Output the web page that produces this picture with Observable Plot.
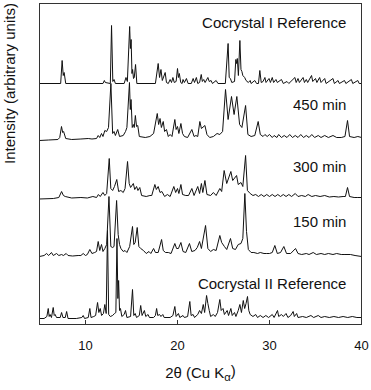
<!DOCTYPE html>
<html>
<head>
<meta charset="utf-8">
<script src="https://cdn.jsdelivr.net/npm/d3@7"></script>
<script src="https://cdn.jsdelivr.net/npm/@observablehq/plot@0.6"></script>
<style>
  html, body { margin: 0; padding: 0; background: #fff; }
  #chart svg { display: block; }
</style>
</head>
<body>
<div id="chart"></div>
<script>
// ---- data ----
const xTicks = [10, 20, 30, 40];
const traceNames = ["Cocrystal I Reference", "450 min", "300 min", "150 min", "Cocrystal II Reference"];
const offsets = [241, 185, 126, 68, 6]; // vertical stacking offsets (arbitrary units)

const cocrystalI = [[5,0],[7.3,0],[7.46,23],[7.58,8],[7.68,11],[7.85,0],
[11.9,0],[12.05,3],[12.15,1],[12.7,0],[12.83,58],[12.97,2],[13.1,4],[13.25,0],
[14.2,0],[14.4,6],[14.55,2],[14.8,57],[14.88,35],[14.96,44],[15.05,10],[15.12,14],[15.22,5],[15.3,6],[15.44,19],[15.58,0],
[17.6,0],[17.9,20],[18.05,6],[18.2,14],[18.35,3],[18.66,11],[18.8,1],[19.0,0],[19.2,4],[19.35,1],[19.5,6],[19.65,1],[19.85,2],[20.0,15],[20.1,6],[20.2,10],[20.35,1],[20.5,0],[20.6,4],[20.75,1],[20.97,5],[21.15,0],[21.5,0],[21.7,5],[21.85,1],[22.05,6],[22.2,0],[22.4,1],[22.58,9],[22.7,2],[22.85,4],[23.0,1],[23.3,6],[23.45,2],[23.65,3],[23.8,0],[24.2,3],[24.4,0],
[25.2,0],[25.5,40],[25.62,6],[25.75,5],[25.9,1],[26.2,2],[26.34,24],[26.42,20],[26.5,25],[26.62,8],[26.78,43],[26.9,14],[27.0,12],[27.1,8],[27.3,6],[27.45,3],[27.7,1],[27.9,3],[28.0,0],[28.4,3],[28.6,0],
[28.8,0],[28.95,13],[29.1,1],[29.3,2],[29.5,6],[29.62,1],[29.95,5],[30.1,1],[30.3,6],[30.45,1],[30.7,4],[30.85,1],[31.3,4],[31.5,0],[31.9,2],[32.1,0],[32.76,6],[32.9,1],[33.1,5],[33.25,1],[33.65,6],[33.8,1],[34.0,4],[34.15,1],[34.57,8],[34.7,2],[35.0,5],[35.15,1],[35.45,6],[35.6,1],[36.0,5],[36.15,0],[36.9,5],[37.05,0],[37.45,3],[37.6,0],[38.15,3],[38.3,0],[38.9,4],[39.05,0],[39.6,3],[39.75,0],[40,0]];

const min450 = [[5,-1],[6,-0.5],[7.0,0],[7.2,2],[7.39,13],[7.52,7],[7.62,8],[7.85,1],[8.5,0],[9.5,0.5],[10.3,1],[10.7,0.5],[11.2,1],[11.38,4],[11.55,2],[11.74,6],[11.9,3],[12.1,9],[12.3,8],[12.5,12],[12.76,56],[12.95,6],[13.1,8],[13.25,4],[13.5,10],[13.7,3],[14.1,4],[14.35,8],[14.5,12],[14.78,57],[14.87,30],[14.95,40],[15.08,12],[15.2,15],[15.3,12],[15.42,24],[15.55,13],[15.68,14],[15.85,3],[16.5,2],[17.0,3],[17.4,6],[17.8,26],[17.95,15],[18.1,21],[18.25,12],[18.45,18],[18.6,8],[18.8,10],[19.0,3],[19.2,5],[19.4,3],[19.71,20],[19.85,10],[20.0,13],[20.15,6],[20.37,16],[20.55,6],[20.75,3],[21.1,2],[21.56,10],[21.8,3],[22.0,4],[22.2,3],[22.43,18],[22.6,11],[22.98,14],[23.2,5],[23.5,2],[23.9,3],[24.3,6],[24.6,5],[24.9,8],[25.22,50],[25.5,20],[25.87,43],[26.15,25],[26.45,43],[26.75,15],[27.0,12],[27.4,34],[27.65,5],[28.0,3],[28.4,4],[28.77,18],[29.0,5],[29.3,3],[29.5,5],[29.75,3],[30.0,5],[30.3,2],[30.5,4],[30.8,2],[31.0,5],[31.3,2],[31.6,4],[31.9,2],[32.2,5],[32.5,2],[32.8,4],[33.1,2],[33.4,5],[33.7,2],[34.0,4],[34.3,2],[34.6,5],[34.9,2],[35.3,4],[35.6,2],[36.0,4],[36.4,2],[36.9,4],[37.3,2],[37.8,2],[38.2,3],[38.48,19],[38.7,3],[39.2,2],[39.6,3],[40,2]];

const min300 = [[5,-0.5],[6.5,0],[7.1,1],[7.4,7],[7.6,3],[7.8,2],[8.5,0.5],[9.5,1],[10.2,0.5],[10.8,2],[11.2,1],[11.4,4],[11.6,2],[11.9,6],[12.1,3],[12.3,5],[12.58,40],[12.75,10],[12.95,8],[13.15,12],[13.4,19],[13.6,7],[13.85,8],[14.1,6],[14.3,10],[14.57,37],[14.75,15],[14.9,11],[15.2,15],[15.35,9],[15.55,12],[15.7,8],[15.9,11],[16.1,3],[16.6,2],[17.0,3],[17.2,3],[17.54,14],[17.7,9],[17.9,12],[18.1,6],[18.3,7],[18.6,2],[18.9,4],[19.2,2],[19.6,12],[19.8,6],[20.0,10],[20.15,5],[20.37,14],[20.55,4],[20.9,3],[21.2,3],[21.56,10],[21.8,3],[22.2,12],[22.4,5],[22.6,15],[22.75,6],[22.98,18],[23.2,4],[23.6,3],[23.9,6],[24.2,3],[24.6,10],[24.8,7],[25.07,28],[25.35,15],[25.8,27],[26.0,18],[26.42,23],[26.6,14],[26.9,16],[27.1,12],[27.4,43],[27.6,8],[27.9,5],[28.2,3],[28.5,4],[28.8,2],[29.1,4],[29.4,2],[29.7,4],[30.0,2],[30.3,4],[30.6,2],[30.9,4],[31.2,2],[31.5,4],[31.8,2],[32.1,4],[32.4,2],[32.8,5],[33.1,2],[33.5,3],[33.9,2],[34.2,4],[34.6,2],[35.0,3],[35.5,2],[36.0,3],[36.5,1.5],[37.0,2],[37.5,1.5],[38.0,2],[38.25,2],[38.48,11],[38.7,2],[39.2,1],[39.6,1],[40,1]];

const min150 = [[5,0],[5.5,1],[5.77,3],[6.0,1],[6.3,4],[6.5,1],[6.85,3],[7.1,1],[7.4,2],[7.6,1],[7.9,3],[8.1,1],[8.6,0.5],[9.2,1],[9.5,1],[9.75,3],[10.0,1],[10.2,2],[10.47,7],[10.7,3],[11.0,4],[11.2,5],[11.38,15],[11.55,6],[11.74,12],[11.9,5],[12.1,8],[12.3,12],[12.55,60],[12.75,10],[12.95,9],[13.1,10],[13.38,56],[13.55,22],[13.7,12],[13.85,8],[14.1,5],[14.3,6],[14.5,4],[14.8,10],[15.11,30],[15.25,12],[15.4,14],[15.62,29],[15.8,10],[16.0,8],[16.3,6],[16.6,3],[16.9,5],[17.1,3],[17.4,8],[17.6,4],[17.9,4],[18.27,17],[18.45,6],[18.7,4],[19.0,4],[19.3,3],[19.71,13],[19.9,8],[20.1,8],[20.37,14],[20.6,5],[20.9,4],[21.3,13],[21.55,5],[21.9,6],[22.15,9],[22.4,15],[22.6,8],[23.05,31],[23.3,8],[23.6,5],[23.9,7],[24.2,6],[24.6,21],[24.8,14],[25.1,10],[25.35,7],[25.76,18],[26.0,8],[26.3,7],[26.6,12],[26.9,13],[27.1,18],[27.32,63],[27.5,25],[27.7,7],[28.0,4],[28.3,4],[28.7,3],[29.0,4],[29.4,3],[29.7,3],[30.0,3],[30.3,4],[30.58,11],[30.85,3],[31.2,4],[31.56,10],[31.85,3],[32.3,3],[32.83,8],[33.1,3],[33.5,2],[34.0,3],[34.3,2],[34.75,4],[35.1,2],[35.6,3],[36.0,2],[36.4,3],[36.9,2],[37.3,3],[37.8,2],[38.2,2],[38.8,2],[39.3,1],[40,0]];

const cocrystalII = [[5,0],[5.5,0],[5.8,2],[5.95,10],[6.05,2],[6.15,4],[6.3,1],[6.49,11],[6.6,3],[6.7,4],[6.85,1],[7.25,1],[7.4,6],[7.55,1],[7.8,1],[7.95,7],[8.1,0],[9.0,0],[9.6,1],[9.75,3],[9.9,0],[10.3,1],[10.47,10],[10.6,1],[10.9,2],[11.1,3],[11.31,16],[11.45,6],[11.6,10],[11.75,3],[11.95,5],[12.1,14],[12.25,5],[12.39,88],[12.52,4],[12.7,2],[12.95,3],[13.15,5],[13.3,6],[13.42,80],[13.52,20],[13.6,38],[13.7,8],[13.8,10],[13.95,2],[14.2,4],[14.35,8],[14.5,1],[14.9,2],[15.11,29],[15.25,3],[15.4,5],[15.55,1],[15.85,3],[16.0,13],[16.15,3],[16.4,8],[16.55,2],[16.8,4],[16.95,1],[17.4,1],[17.6,3],[17.73,10],[17.85,3],[18.05,4],[18.2,2],[18.4,4],[18.55,1],[19.2,1],[19.5,3],[19.71,12],[19.85,2],[20.1,5],[20.25,1],[20.6,3],[20.75,1],[21.1,2],[21.34,17],[21.48,3],[21.7,4],[21.85,1],[22.2,4],[22.4,8],[22.6,5],[22.8,14],[22.95,6],[23.16,23],[23.3,15],[23.45,8],[23.6,2],[23.9,4],[24.1,2],[24.35,6],[24.6,19],[24.75,8],[24.95,10],[25.1,4],[25.4,8],[25.55,3],[25.8,10],[25.95,3],[26.2,6],[26.35,2],[26.6,8],[26.78,14],[26.95,6],[27.15,18],[27.3,10],[27.45,15],[27.61,22],[27.75,8],[27.9,4],[28.2,2],[28.5,4],[28.7,1],[29.0,3],[29.3,1],[29.6,3],[29.9,1],[30.3,4],[30.5,1],[30.87,8],[31.0,2],[31.3,4],[31.5,2],[31.8,5],[32.0,1],[32.3,3],[32.57,7],[32.7,2],[32.95,5],[33.1,1],[33.6,2],[34.0,1],[34.5,3],[34.8,1],[35.3,3],[35.6,1],[36.0,2],[36.5,1],[37.0,2],[37.5,1],[38.0,2],[38.5,1],[39.0,2],[39.5,1],[40,1]];

const traces = [cocrystalI, min450, min300, min150, cocrystalII];

// ---- build table ----
const rows = [];
traces.forEach((pts, i) => {
  pts.forEach(([x, v]) => rows.push({name: traceNames[i], x, y: v + offsets[i]}));
});
const labelRise = [60, 34, 31, 34, 34];
const labels = traceNames.map((name, i) => ({name, y: offsets[i] + labelRise[i]}));

const xLabel = "2θ (Cu Kα)";
const yLabel = "Intensity (arbitrary units)";

const chart = Plot.plot({
  width: 371,
  height: 390,
  marginLeft: 39,
  marginRight: 10,
  marginTop: 3,
  marginBottom: 66,
  style: {fontFamily: "'Liberation Sans', Arial, sans-serif", background: "#fff", color: "#111"},
  x: {domain: [5, 40]},
  y: {domain: [0, 321], axis: null},
  marks: [
    Plot.line(rows, {x: "x", y: "y", z: "name", stroke: "#111", strokeWidth: 1}),
    Plot.frame({stroke: "#333", strokeWidth: 1}),
    Plot.ruleX(xTicks.filter(t => t < 40), {y1: 0, y2: 4, stroke: "#333"}),
    Plot.axisX({ticks: xTicks, tickSize: 0, tickPadding: 16, fontSize: 13, label: null, tickFormat: d => String(d)}),
    Plot.text(labels, {x: () => 38.35, y: "y", text: "name", textAnchor: "end", fontSize: 15, fill: "#111"}),
    Plot.text([xLabel], {frameAnchor: "bottom", dy: 53, fontSize: 15, fill: "#111"}),
    Plot.text([yLabel], {frameAnchor: "left", dx: -29, rotate: -90, fontSize: 15, fill: "#111"})
  ]
});

// subscript alpha in x label
d3.select(chart).selectAll("text").each(function() {
  if (this.textContent === xLabel) {
    const t = d3.select(this);
    t.text(null);
    t.append("tspan").text("2θ (Cu K");
    t.append("tspan").attr("dy", "0.35em").attr("font-size", "0.75em").text("α");
    t.append("tspan").attr("dy", "-0.35em").text(")");
  }
});

document.getElementById("chart").appendChild(chart);
</script>
</body>
</html>
